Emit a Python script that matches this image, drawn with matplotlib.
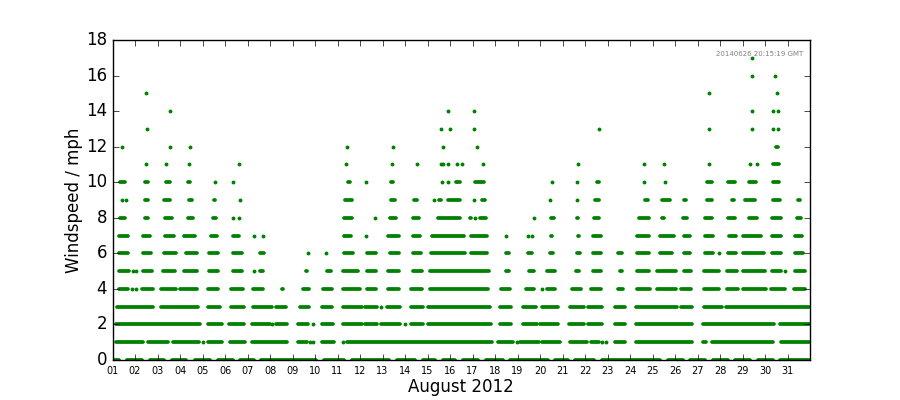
import datetime
import matplotlib
matplotlib.use('Agg')
import matplotlib.pyplot as plt
import matplotlib.dates as mdates

# runs of readings at each windspeed, in days since 2012-08-01 00:00
# (start, end); a single reading has start == end
runs_0mph = [(0.0, 0.33), (0.6, 1.35), (1.6, 2.35), (2.6, 3.33), (3.6, 4.4), (4.62, 5.4),
             (5.62, 6.35), (6.55, 9.12), (9.35, 10.35), (10.58, 12.35), (12.58, 13.5),
             (13.72, 14.4), (14.62, 15.3), (15.52, 16.3), (16.52, 17.4), (17.62, 19.4),
             (19.62, 20.3), (20.5, 21.45), (21.7, 24.4), (24.62, 25.4), (25.62, 26.4),
             (26.62, 27.4), (27.62, 28.4), (28.62, 29.4), (29.62, 31.0)]
runs_1mph = [(0.09, 1.42), (1.5, 2.54), (2.61, 3.9), (3.96, 4.1), (4.17, 4.91), (5.16, 5.95),
             (6.12, 7.8), (8.17, 8.7), (8.78, 8.78), (8.91, 8.91), (9.24, 9.9), (10.17, 10.3),
             (10.37, 16.92), (17.07, 17.88), (17.96, 17.96), (18.03, 19.0), (19.04, 19.93),
             (20.25, 21.15), (21.22, 21.7), (21.74, 21.74), (21.93, 21.93), (22.26, 22.85),
             (23.2, 25.82), (26.19, 26.44), (26.59, 29.4), (29.63, 31.0)]
runs_2mph = [(0.09, 3.95), (4.17, 4.91), (5.13, 5.91), (6.14, 7.06), (7.1, 7.1), (7.21, 7.8),
             (8.17, 8.76), (8.91, 8.91), (9.27, 9.84), (10.17, 11.13), (11.18, 11.8),
             (11.88, 12.84), (13.02, 13.02), (13.21, 13.88), (13.98, 16.88), (17.18, 17.77),
             (18.18, 18.92), (18.96, 19.84), (20.22, 21.0), (21.05, 21.8), (22.26, 22.82),
             (23.22, 25.82), (26.19, 29.45), (29.6, 31.0)]
runs_3mph = [(0.16, 1.87), (2.09, 3.84), (4.17, 4.83), (5.2, 5.91), (6.17, 7.13), (7.21, 7.78),
             (8.27, 8.81), (9.27, 9.8), (10.17, 11.13), (11.18, 11.8), (11.93, 11.93),
             (12.13, 12.84), (13.21, 13.88), (13.98, 16.85), (17.18, 17.76), (18.18, 18.9),
             (19.02, 19.84), (20.28, 21.0), (21.07, 21.81), (22.26, 22.82), (23.22, 25.15),
             (25.2, 25.82), (26.21, 27.15), (27.22, 31.0)]
runs_4mph = [(0.24, 0.76), (0.88, 0.88), (1.05, 1.05), (1.23, 1.84), (2.09, 2.9), (2.95, 3.8),
             (4.17, 4.76), (5.2, 5.84), (6.2, 6.76), (7.46, 7.65), (8.39, 8.81), (9.31, 9.8),
             (10.17, 11.06), (11.27, 11.79), (12.18, 12.8), (13.21, 13.81), (14.07, 16.75),
             (17.2, 17.74), (18.3, 18.77), (19.1, 19.1), (19.25, 19.74), (20.36, 20.88),
             (21.22, 21.78), (22.39, 22.75), (23.27, 23.94), (24.12, 25.1), (25.2, 25.79),
             (26.21, 27.03), (27.27, 27.85), (27.94, 29.08), (29.2, 29.95), (30.23, 30.83)]
runs_5mph = [(0.24, 0.8), (0.9, 0.9), (1.05, 1.05), (1.28, 1.8), (2.17, 2.85), (3.13, 3.8),
             (4.24, 4.76), (5.28, 5.82), (6.27, 6.27), (6.51, 6.76), (8.52, 8.72), (9.46, 9.76),
             (10.17, 10.95), (11.25, 11.75), (12.18, 12.8), (13.3, 13.81), (14.07, 16.77),
             (17.43, 17.66), (18.43, 18.8), (19.25, 19.74), (20.52, 20.8), (21.3, 21.75),
             (22.5, 22.72), (23.27, 23.92), (24.12, 25.1), (25.32, 25.78), (26.21, 27.0),
             (27.27, 27.8), (27.97, 29.05), (29.26, 29.75), (29.9, 29.9), (30.26, 30.83)]
runs_6mph = [(0.24, 0.76), (1.28, 1.79), (2.24, 2.9), (3.2, 3.8), (4.24, 4.76), (5.28, 5.82),
             (6.49, 6.79), (8.7, 8.7), (9.48, 9.48), (10.22, 10.75), (11.25, 11.75),
             (12.28, 12.77), (13.29, 13.75), (14.1, 15.73), (15.85, 16.7), (17.42, 17.66),
             (18.4, 18.72), (19.4, 19.65), (20.57, 20.84), (21.3, 21.75), (22.41, 22.72),
             (23.27, 23.92), (24.26, 24.93), (25.32, 25.74), (26.26, 26.75), (26.96, 26.96),
             (27.3, 27.75), (27.97, 29.0), (29.24, 29.77), (30.26, 30.75)]
runs_7mph = [(0.24, 0.76), (1.28, 1.72), (2.28, 2.78), (3.13, 3.72), (4.31, 4.69), (5.28, 5.7),
             (6.29, 6.29), (6.7, 6.7), (10.24, 10.68), (11.25, 11.25), (11.55, 11.7),
             (12.2, 12.77), (13.29, 13.72), (14.13, 15.66), (15.88, 16.72), (17.47, 17.47),
             (18.45, 18.45), (18.6, 18.7), (19.44, 19.59), (20.62, 20.78), (21.3, 21.75),
             (23.27, 23.92), (24.26, 25.0), (25.32, 25.74), (26.26, 26.75), (27.32, 27.75),
             (27.97, 28.86), (29.24, 29.77), (30.26, 30.69)]
runs_8mph = [(0.28, 0.61), (1.37, 1.65), (2.28, 2.71), (3.31, 3.64), (4.39, 4.64), (5.35, 5.35),
             (5.63, 5.63), (10.24, 10.7), (11.66, 11.66), (12.28, 12.65), (13.29, 13.66),
             (14.4, 15.51), (15.84, 15.98), (16.1, 16.1), (16.28, 16.65), (18.74, 18.74),
             (19.41, 19.66), (20.58, 20.73), (21.34, 21.69), (23.34, 23.9), (24.36, 24.56),
             (24.7, 24.85), (25.3, 25.59), (26.26, 26.7), (27.3, 27.72), (28.22, 28.68),
             (29.26, 29.75), (30.38, 30.66)]
runs_9mph = [(0.42, 0.42), (0.6, 0.6), (1.4, 1.65), (2.24, 2.61), (3.35, 3.6), (4.43, 4.61),
             (5.62, 5.71), (10.29, 10.69), (12.32, 12.62), (13.33, 13.58), (14.29, 14.29),
             (14.45, 14.67), (14.84, 15.51), (16.05, 16.05), (16.36, 16.6), (19.44, 19.44),
             (20.62, 20.62), (21.37, 21.69), (23.6, 23.87), (24.36, 24.85), (25.34, 25.56),
             (26.34, 26.72), (27.48, 27.67), (28.04, 28.63), (29.3, 29.72), (30.41, 30.6)]
runs_10mph = [(0.28, 0.61), (1.39, 1.65), (2.31, 2.61), (3.31, 3.5), (4.54, 4.54),
              (5.35, 5.35), (10.4, 10.62), (11.28, 11.28), (12.32, 12.54), (14.65, 14.65),
              (14.9, 14.9), (15.21, 15.51), (16.07, 16.58), (19.51, 19.51), (20.66, 20.66),
              (21.49, 21.69), (23.64, 23.64), (24.55, 24.55), (25.41, 25.55), (26.37, 26.7),
              (27.3, 27.72), (28.24, 28.64), (29.28, 29.7)]
runs_11mph = [(1.5, 1.5), (2.39, 2.39), (3.38, 3.38), (5.6, 5.6), (10.37, 10.37),
              (12.44, 12.44), (13.51, 13.51), (14.58, 14.58), (14.67, 14.67), (14.93, 14.93),
              (15.32, 15.32), (15.54, 15.54), (16.47, 16.47), (20.67, 20.67), (23.64, 23.64),
              (24.51, 24.51), (26.45, 26.53), (28.35, 28.35), (28.64, 28.64), (29.3, 29.67)]
runs_12mph = [(0.43, 0.43), (2.54, 2.54), (3.45, 3.45), (10.4, 10.4), (12.47, 12.47),
              (14.67, 14.67), (16.22, 16.22), (29.42, 29.64)]
runs_13mph = [(1.54, 1.54), (14.62, 14.62), (14.99, 14.99), (16.03, 16.1), (21.6, 21.6),
              (26.53, 26.53), (28.41, 28.41), (29.35, 29.35), (29.5, 29.62)]
runs_14mph = [(2.54, 2.54), (14.89, 14.89), (16.07, 16.07), (28.41, 28.41), (29.35, 29.35),
              (29.56, 29.56)]
runs_15mph = [(1.5, 1.5), (26.53, 26.53), (29.52, 29.52)]
runs_16mph = [(28.41, 28.41), (29.42, 29.42)]
runs_17mph = [(28.4, 28.4)]

levels = [runs_0mph, runs_1mph, runs_2mph, runs_3mph, runs_4mph, runs_5mph, runs_6mph,
          runs_7mph, runs_8mph, runs_9mph, runs_10mph, runs_11mph, runs_12mph,
          runs_13mph, runs_14mph, runs_15mph, runs_16mph, runs_17mph]

start = mdates.date2num(datetime.datetime(2012, 8, 1))
# last reading of the month, 23:55 on the 31st
end = mdates.date2num(datetime.datetime(2012, 8, 31, 23, 55))
stamp = '20140626 20:15:19 GMT'

plt.style.use('classic')
fig = plt.figure(figsize=(9, 4), dpi=100, facecolor='white')
ax = fig.add_subplot(111)

inset = 0.06
for speed, runs in enumerate(levels):
    singles = []
    for a, b in runs:
        if b - a <= 2 * inset + 0.02:
            singles.append(start + (a + b) / 2)
        else:
            lc = ax.hlines(speed, start + a + inset, start + b - inset, colors='g',
                           linewidth=2.7)
            lc.set_capstyle('round')
    if singles:
        ax.plot(singles, [speed] * len(singles), 'o', color='g', ms=2.8, mew=0)

ax.set_xlim(start, end)
ax.set_ylim(0, 18)
ax.xaxis.set_major_locator(mdates.DayLocator())
ax.xaxis.set_major_formatter(mdates.DateFormatter('%d'))
ax.tick_params(axis='x', labelsize=7)
ax.tick_params(axis='y', labelsize=12)
ax.set_xlabel('August 2012', fontsize=12, labelpad=2)
ax.set_ylabel('Windspeed / mph', fontsize=12, labelpad=2)
ax.text(0.99, 0.955, stamp, transform=ax.transAxes, ha='right', va='center',
        fontsize=5, color='gray')

fig.subplots_adjust(left=0.125, right=0.9, bottom=0.1, top=0.9)
fig.savefig('out.png', dpi=100, facecolor='white')
